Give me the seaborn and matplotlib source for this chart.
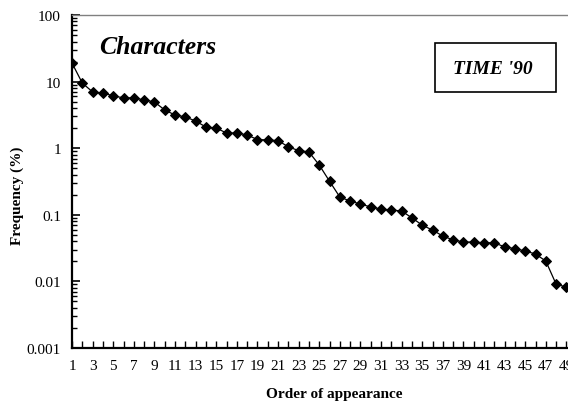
import numpy as np
import pandas as pd
import seaborn as sns
import matplotlib.pyplot as plt
from matplotlib.patches import Rectangle
from matplotlib.ticker import FixedLocator, LogLocator, NullFormatter, FixedFormatter

order = list(range(1, 50))
freq = [19.0, 9.5, 7.0, 6.75, 6.1, 5.7, 5.7, 5.3, 4.95, 3.75,
        3.15, 2.95, 2.56, 2.08, 2.01, 1.69, 1.69, 1.58, 1.35, 1.33,
        1.3, 1.05, 0.92, 0.88, 0.56, 0.32, 0.185, 0.161, 0.145, 0.131,
        0.122, 0.118, 0.114, 0.09, 0.07, 0.059, 0.048, 0.042, 0.039, 0.039,
        0.038, 0.038, 0.033, 0.031, 0.0286, 0.0258, 0.0202, 0.0091, 0.0082]
ytick_vals = [0.001, 0.01, 0.1, 1, 10, 100]
ytick_labels = ['0.001', '0.01', '0.1', '1', '10', '100']

df = pd.DataFrame({'order': order, 'freq': freq})

sns.set_style('ticks')
plt.rcParams['font.family'] = ['Liberation Serif', 'DejaVu Serif']
plt.rcParams['text.color'] = 'black'
plt.rcParams['axes.labelcolor'] = 'black'

fig = plt.figure(figsize=(5.68, 4.06), dpi=100)
ax = fig.add_axes([72 / 568, 57 / 406, 525 / 568, 333 / 406])

sns.lineplot(data=df, x='order', y='freq', ax=ax, color='black', linewidth=0.9,
             marker='D', markersize=5.5, markeredgecolor='black')

ax.set_yscale('log')
ax.set_ylim(0.001, 100)
ax.set_xlim(1, 1 + 525 / 10.3)

ax.yaxis.set_major_locator(FixedLocator(ytick_vals))
ax.yaxis.set_major_formatter(FixedFormatter(ytick_labels))
ax.yaxis.set_minor_locator(LogLocator(base=10, subs=np.arange(2, 10)))
ax.yaxis.set_minor_formatter(NullFormatter())

ax.xaxis.set_major_locator(FixedLocator(order[::2]))
ax.xaxis.set_minor_locator(FixedLocator(order[1::2] + [50, 52]))

ax.tick_params(axis='both', which='both', direction='in', color='black',
               labelsize=11, labelcolor='black')
ax.tick_params(axis='y', which='major', length=6, width=1.2, pad=8)
ax.tick_params(axis='y', which='minor', length=3.5, width=1)
ax.tick_params(axis='x', which='both', length=5, width=1, pad=8)

for s in ['left', 'bottom']:
    ax.spines[s].set_color('black')
    ax.spines[s].set_linewidth(1.6)
ax.spines['top'].set_color('#808080')
ax.spines['top'].set_linewidth(1)
ax.spines['right'].set_visible(False)

ax.set_xlabel('Order of appearance', fontsize=11, fontweight='bold', labelpad=11)
ax.set_ylabel('Frequency (%)', fontsize=11, fontweight='bold')
ax.yaxis.set_label_coords(-0.091, 0.46)

fig.text(99 / 568, 1 - 47 / 406, 'Characters', fontsize=18.5, fontweight='bold',
         fontstyle='italic', va='center', ha='left')

fig.patches.append(Rectangle((435 / 568, 1 - 93 / 406), 121 / 568, 49 / 406,
                             transform=fig.transFigure, facecolor='white',
                             edgecolor='black', linewidth=1.2))
fig.text(493 / 568, 1 - 69 / 406, "TIME '90", fontsize=14, fontweight='bold',
         fontstyle='italic', ha='center', va='center')

fig.savefig('out.png', dpi=100)
